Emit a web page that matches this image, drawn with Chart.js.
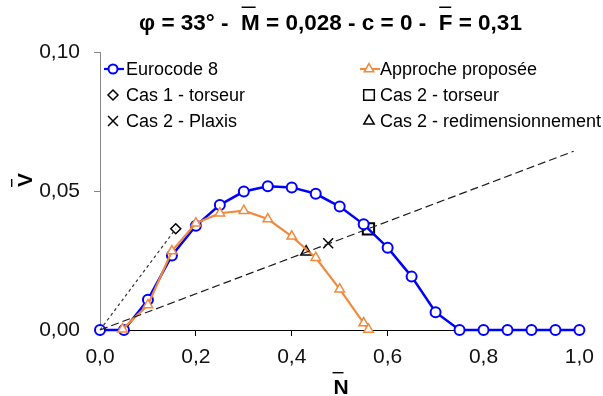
<!DOCTYPE html>
<html>
<head>
<meta charset="utf-8">
<script src="https://cdn.jsdelivr.net/npm/chart.js@4/dist/chart.umd.min.js"></script>
<style>
  html, body { margin: 0; padding: 0; background: #fff; }
  #wrap { width: 603px; height: 396px; position: relative; }
</style>
</head>
<body>
<div id="wrap"><canvas id="c"></canvas></div>
<script>
// Eurocode 8 curve
const euroN = [0, 0.05, 0.1, 0.15, 0.2, 0.25, 0.3, 0.35, 0.4, 0.45, 0.5, 0.55, 0.6, 0.65, 0.7, 0.75, 0.8, 0.85, 0.9, 0.95, 1.0];
const euroV = [0, 0, 0.0109, 0.0268, 0.0375, 0.045, 0.0498, 0.0517, 0.0513, 0.049, 0.0444, 0.038, 0.0296, 0.0192, 0.0064, 0, 0, 0, 0, 0, 0];
// approche proposee
const approN = [0.047, 0.1, 0.15, 0.2, 0.25, 0.3, 0.35, 0.4, 0.45, 0.5, 0.55, 0.56];
const approV = [0.0003, 0.009, 0.0284, 0.0384, 0.042, 0.0429, 0.0399, 0.0337, 0.026, 0.0147, 0.0025, 0.0002];
// single points
const cas1TorseurN = [0.158], cas1TorseurV = [0.0364];
const cas2TorseurN = [0.560], cas2TorseurV = [0.0364];
const cas2PlaxisN = [0.476], cas2PlaxisV = [0.0312];
const cas2RedimN = [0.430], cas2RedimV = [0.0281];
// guide lines
const rayN = [0, 0.988], rayV = [0, 0.0643];
const cas1RayN = [0, 0.158], cas1RayV = [0, 0.0364];

const xTicks = [0, 0.2, 0.4, 0.6, 0.8, 1.0];
const yTicks = [0, 0.05, 0.10];

const BLUE = '#0000FF';
const ORANGE = '#F08A3E';
const FONT = '"Liberation Sans", Arial, sans-serif';

function pts(xs, ys) { return xs.map((x, i) => ({ x: x, y: ys[i] })); }

// legend entries (drawn by hand to keep the two aligned columns)
const legendItems = [
  { text: 'Eurocode 8', col: 0, row: 0, color: BLUE, style: 'circle', r: 4.5, bw: 2, line: true },
  { text: 'Approche proposée', col: 1, row: 0, color: ORANGE, style: 'triangle', r: 5.5, bw: 1.5, line: true },
  { text: 'Cas 1 - torseur', col: 0, row: 1, color: '#000', style: 'rectRot', r: 5, bw: 1.5 },
  { text: 'Cas 2 - torseur', col: 1, row: 1, color: '#000', style: 'rect', r: 7.5, bw: 1.5 },
  { text: 'Cas 2 - Plaxis', col: 0, row: 2, color: '#000', style: 'crossRot', r: 7, bw: 1.5 },
  { text: 'Cas 2 - redimensionnement', col: 1, row: 2, color: '#000', style: 'triangle', r: 6, bw: 1.5 }
];

const decor = {
  id: 'decor',
  afterDraw(chart) {
    const ctx = chart.ctx;
    ctx.save();
    ctx.fillStyle = '#000';
    ctx.strokeStyle = '#000';

    // title with overbars
    const pre1 = 'φ = 33° -  ';
    const mid = 'M = 0,028 - c = 0 -  ';
    const end = 'F = 0,31';
    ctx.font = 'bold 22.5px ' + FONT;
    ctx.textBaseline = 'alphabetic';
    ctx.textAlign = 'left';
    const full = pre1 + mid + end;
    const tw = ctx.measureText(full).width;
    const x0 = 330.5 - tw / 2;
    ctx.fillText(full, x0, 30);
    const mX = x0 + ctx.measureText(pre1).width;
    const fX = x0 + ctx.measureText(pre1 + mid).width;
    ctx.fillRect(mX + 0.5, 6.5, 14, 1.5);
    ctx.fillRect(fX + 0.5, 6.5, 12, 1.5);

    // x axis title
    ctx.font = 'bold 21px ' + FONT;
    ctx.textAlign = 'center';
    ctx.fillText('N', 341, 394);
    ctx.fillRect(332.5, 372, 11, 1.4);

    // y axis title (rotated)
    ctx.save();
    ctx.translate(32, 180);
    ctx.rotate(-Math.PI / 2);
    ctx.fillText('V', 0, 0);
    ctx.fillRect(-7, -21, 8, 1.4);
    ctx.restore();

    // legend
    const colMarker = [113, 369];
    const colText = [126, 380];
    const rowY = [69, 95, 121];
    ctx.font = '18px ' + FONT;
    ctx.textAlign = 'left';
    ctx.textBaseline = 'middle';
    legendItems.forEach(it => {
      const mx = colMarker[it.col], my = rowY[it.row];
      if (it.line) {
        ctx.beginPath();
        ctx.lineWidth = 2.2;
        ctx.strokeStyle = it.color;
        ctx.moveTo(mx - 9, my);
        ctx.lineTo(mx + 11, my);
        ctx.stroke();
      }
      ctx.strokeStyle = it.color;
      ctx.fillStyle = '#fff';
      ctx.lineWidth = it.bw;
      if (Chart.helpers && Chart.helpers.drawPoint) {
        Chart.helpers.drawPoint(ctx, { pointStyle: it.style, radius: it.r, rotation: 0, borderWidth: it.bw }, mx, my);
      }
      ctx.fillStyle = '#000';
      ctx.fillText(it.text, colText[it.col], my + 1);
    });
    ctx.restore();
  }
};

new Chart(document.getElementById('c'), {
  type: 'scatter',
  data: {
    datasets: [
      { label: 'ray', data: pts(rayN, rayV), showLine: true, borderColor: '#1a1a1a', borderWidth: 1.2,
        borderDash: [8, 4], pointRadius: 0 },
      { label: 'cas1ray', data: pts(cas1RayN, cas1RayV), showLine: true, borderColor: '#333', borderWidth: 1.2,
        borderDash: [3, 3], pointRadius: 0 },
      { label: 'Approche proposée', data: pts(approN, approV), showLine: true, borderColor: ORANGE, borderWidth: 2.2,
        pointStyle: 'triangle', pointRadius: 5.5, pointBorderWidth: 1.5, pointBackgroundColor: '#fff', pointBorderColor: ORANGE },
      { label: 'Eurocode 8', data: pts(euroN, euroV), showLine: true, borderColor: BLUE, borderWidth: 2.5,
        pointStyle: 'circle', pointRadius: 5, pointBorderWidth: 2, pointBackgroundColor: '#fff', pointBorderColor: BLUE },
      { label: 'Cas 1 - torseur', data: pts(cas1TorseurN, cas1TorseurV), pointStyle: 'rectRot', pointRadius: 5,
        pointBorderWidth: 1.5, pointBackgroundColor: '#fff', pointBorderColor: '#000' },
      { label: 'Cas 2 - torseur', data: pts(cas2TorseurN, cas2TorseurV), pointStyle: 'rect', pointRadius: 8,
        pointBorderWidth: 2, pointBackgroundColor: '#fff', pointBorderColor: '#000' },
      { label: 'Cas 2 - Plaxis', data: pts(cas2PlaxisN, cas2PlaxisV), pointStyle: 'crossRot', pointRadius: 7,
        pointBorderWidth: 1.5, pointBorderColor: '#000' },
      { label: 'Cas 2 - redimensionnement', data: pts(cas2RedimN, cas2RedimV), pointStyle: 'triangle', pointRadius: 6.2,
        pointBorderWidth: 1.5, pointBackgroundColor: '#fff', pointBorderColor: '#000' }
    ]
  },
  options: {
    responsive: true,
    maintainAspectRatio: false,
    animation: false,
    clip: false,
    layout: { padding: { top: 52, right: 21, left: 0, bottom: 0 } },
    plugins: {
      legend: { display: false },
      title: { display: false },
      tooltip: { enabled: false }
    },
    scales: {
      x: {
        type: 'linear',
        min: 0, max: 1,
        afterBuildTicks: s => { s.ticks = xTicks.map(v => ({ value: v })); },
        afterFit: s => { s.height = 66; },
        grid: { drawOnChartArea: false, drawTicks: true, tickLength: 6, color: '#000' },
        border: { color: '#000', width: 1 },
        ticks: {
          color: '#111', padding: 9, maxRotation: 0,
          font: { family: FONT, size: 21 },
          callback: v => v.toFixed(1).replace('.', ',')
        }
      },
      y: {
        type: 'linear',
        min: 0, max: 0.1,
        afterBuildTicks: s => { s.ticks = yTicks.map(v => ({ value: v })); },
        afterFit: s => { s.width = 100; },
        grid: { drawOnChartArea: false, drawTicks: true, tickLength: 6, color: '#888' },
        border: { color: '#888', width: 1 },
        ticks: {
          color: '#111', padding: 14,
          font: { family: FONT, size: 21 },
          callback: v => v.toFixed(2).replace('.', ',')
        }
      }
    }
  },
  plugins: [decor]
});
</script>
</body>
</html>
